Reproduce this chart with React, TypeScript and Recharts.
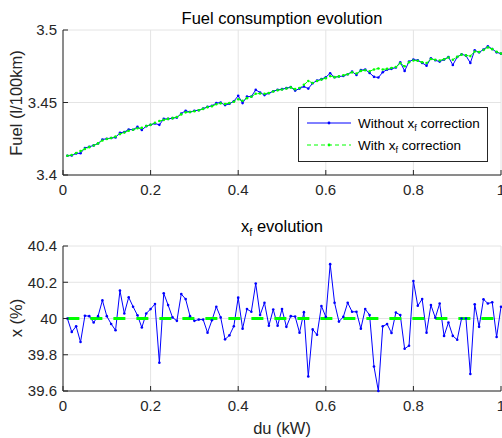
import { LineChart, Line, XAxis, YAxis, CartesianGrid } from "recharts";

// x values (du, kW)
const du = [
  0.01, 0.02, 0.03, 0.04, 0.05, 0.06, 0.07, 0.08, 0.09, 0.1,
  0.11, 0.12, 0.13, 0.14, 0.15, 0.16, 0.17, 0.18, 0.19, 0.2,
  0.21, 0.22, 0.23, 0.24, 0.25, 0.26, 0.27, 0.28, 0.29, 0.3,
  0.31, 0.32, 0.33, 0.34, 0.35, 0.36, 0.37, 0.38, 0.39, 0.4,
  0.41, 0.42, 0.43, 0.44, 0.45, 0.46, 0.47, 0.48, 0.49, 0.5,
  0.51, 0.52, 0.53, 0.54, 0.55, 0.56, 0.57, 0.58, 0.59, 0.6,
  0.61, 0.62, 0.63, 0.64, 0.65, 0.66, 0.67, 0.68, 0.69, 0.7,
  0.71, 0.72, 0.73, 0.74, 0.75, 0.76, 0.77, 0.78, 0.79, 0.8,
  0.81, 0.82, 0.83, 0.84, 0.85, 0.86, 0.87, 0.88, 0.89, 0.9,
  0.91, 0.92, 0.93, 0.94, 0.95, 0.96, 0.97, 0.98, 0.99, 1.0,
];

// fuel consumption without x_f correction (l/100km)
const fuelWithout = [
  3.4133, 3.4134, 3.4149, 3.415, 3.4186, 3.4195, 3.4204, 3.4217, 3.4245, 3.425,
  3.4255, 3.4259, 3.4291, 3.4296, 3.4314, 3.4312, 3.4332, 3.431, 3.4337, 3.4346,
  3.4355, 3.4346, 3.4387, 3.4387, 3.4392, 3.4396, 3.4424, 3.4443, 3.4434, 3.4443,
  3.4447, 3.4458, 3.447, 3.4477, 3.4496, 3.45, 3.4482, 3.4491, 3.4509, 3.4546,
  3.4496, 3.4541, 3.4541, 3.4587, 3.4569, 3.4551, 3.4564, 3.4578, 3.4587, 3.4592,
  3.4599, 3.4606, 3.4582, 3.4596, 3.461, 3.4596, 3.4633, 3.4651, 3.4661, 3.4674,
  3.4702, 3.4674, 3.4679, 3.4683, 3.4695, 3.4713, 3.469, 3.4723, 3.4727, 3.4704,
  3.4677, 3.4672, 3.4709, 3.4727, 3.4732, 3.4741, 3.4778, 3.4718, 3.4782, 3.4796,
  3.4791, 3.4773, 3.4754, 3.4805, 3.4791, 3.4782, 3.4796, 3.4814, 3.4759, 3.4814,
  3.4833, 3.4823, 3.4773, 3.486, 3.4846, 3.4865, 3.4888, 3.4869, 3.4846, 3.4837,
];

// fuel consumption with x_f correction (l/100km)
const fuelWith = [
  3.4133, 3.4138, 3.4152, 3.4165, 3.418, 3.4192, 3.4203, 3.4218, 3.4238, 3.4248,
  3.4255, 3.4265, 3.4282, 3.4293, 3.4305, 3.4312, 3.4322, 3.4325, 3.4338, 3.4346,
  3.436, 3.4372, 3.438, 3.4387, 3.4392, 3.44, 3.4418, 3.4432, 3.4434, 3.444,
  3.4447, 3.4456, 3.4468, 3.4474, 3.4488, 3.4494, 3.449, 3.4496, 3.4505, 3.4522,
  3.4512, 3.453, 3.454, 3.456, 3.4562, 3.456, 3.4566, 3.4576, 3.4584, 3.459,
  3.4597, 3.4604, 3.4592, 3.46, 3.4622, 3.4648, 3.4635, 3.4648, 3.4658, 3.4668,
  3.4682, 3.4675, 3.468, 3.4688, 3.4695, 3.4708, 3.47, 3.4718, 3.4722, 3.4715,
  3.4728, 3.4735, 3.4728, 3.4732, 3.4738, 3.4745, 3.477, 3.475, 3.4778, 3.479,
  3.4788, 3.4778, 3.4772, 3.48, 3.4795, 3.479, 3.4798, 3.481, 3.4795, 3.4815,
  3.483, 3.4825, 3.482, 3.4852, 3.4848, 3.4862, 3.488, 3.4868, 3.485, 3.4838,
];

// x_f estimate (%)
const xfMeasured = [
  40.0, 39.926, 39.957, 39.87, 40.015, 40.013, 39.978, 40.013, 40.1, 40.013,
  39.97, 39.935, 40.154, 40.028, 40.117, 40.065, 40.018, 39.95, 40.028, 40.052,
  40.08, 39.756, 40.139, 40.074, 40.006, 39.987, 40.135, 40.107, 40.013, 39.987,
  39.994, 39.994, 39.922, 39.99, 40.065, 40.006, 39.885, 39.907, 39.957, 40.115,
  39.944, 40.052, 40.037, 40.193, 40.019, 40.087, 39.96, 40.05, 39.96, 40.052,
  39.954, 40.013, 40.011, 39.922, 40.035, 39.68, 39.94, 39.91, 40.069, 40.009,
  40.3, 40.087, 39.983, 40.009, 40.087, 40.037, 40.037, 39.944, 40.052, 40.019,
  39.735, 39.6, 39.957, 39.969, 39.92, 40.033, 40.019, 39.833, 39.85, 40.207,
  40.07, 40.107, 39.922, 40.074, 40.004, 40.083, 39.904, 39.978, 39.904, 39.883,
  40.0, 40.0, 39.694, 40.078, 39.954, 40.106, 40.083, 40.089, 39.898, 40.065,
];

// corrected x_f (%), flat line
const xfCorrDu = [0.01, 1.0];
const xfCorrVal = [40, 40];

const duTicks = [0, 0.2, 0.4, 0.6, 0.8, 1];
const fuelTicks = [3.4, 3.45, 3.5];
const xfTicks = [39.6, 39.8, 40, 40.2, 40.4];

const fuelData = du.map((d, i) => ({ du: d, without: fuelWithout[i], withCorr: fuelWith[i] }));
const xfData = du.map((d, i) => ({ du: d, xf: xfMeasured[i] }));
const xfCorrData = xfCorrDu.map((d, i) => ({ du: d, xf: xfCorrVal[i] }));

const AXIS = "#262626";
const GRID = "#e4e4e4";
const BLUE = "#0000ff";
const GREEN = "#00ff00";
const FONT = "'Liberation Sans', Arial, Helvetica, sans-serif";

function XTick({ x, y, payload }: any) {
  return (
    <g>
      <line x1={x} y1={y} x2={x} y2={y - 5} stroke={AXIS} />
      <text x={x} y={y + 15} dy="0.35em" textAnchor="middle" fontSize={15} fill={AXIS} fontFamily={FONT}>
        {String(payload.value)}
      </text>
    </g>
  );
}

function YTick({ x, y, payload }: any) {
  return (
    <g>
      <line x1={x} y1={y} x2={x + 5} y2={y} stroke={AXIS} />
      <text x={x - 6} y={y} dy="0.35em" textAnchor="end" fontSize={15} fill={AXIS} fontFamily={FONT}>
        {String(payload.value)}
      </text>
    </g>
  );
}

function Legend() {
  return (
    <svg width={190} height={55} style={{ position: "absolute", left: 298, top: 107 }}>
      <rect x={0.5} y={0.5} width={189} height={54} fill="#fff" stroke={AXIS} />
      <line x1={9} y1={16} x2={53} y2={16} stroke={BLUE} />
      <circle cx={31} cy={16} r={1.4} fill={BLUE} />
      <text x={60} y={16} dy="0.35em" fontSize={13.5} fill="#000" fontFamily={FONT}>
        Without x<tspan dy={3} fontSize={9}>f</tspan>
        <tspan dy={-3}> correction</tspan>
      </text>
      <line x1={9} y1={38} x2={53} y2={38} stroke={GREEN} strokeDasharray="4 3" />
      <circle cx={31} cy={38} r={1.4} fill={GREEN} />
      <text x={60} y={38} dy="0.35em" fontSize={13.5} fill="#000" fontFamily={FONT}>
        With x<tspan dy={3} fontSize={9}>f</tspan>
        <tspan dy={-3}> correction</tspan>
      </text>
    </svg>
  );
}

export default function App() {
  return (
    <div style={{ position: "fixed", left: 0, top: 0, width: 502, height: 438, background: "#fff", overflow: "hidden" }}>
      <div style={{ position: "absolute", left: 0, top: 0 }}>
        <LineChart width={502} height={200} data={fuelData} margin={{ top: 30, right: 1, bottom: 0, left: 0 }}>
          <CartesianGrid stroke={GRID} />
          <XAxis
            dataKey="du"
            type="number"
            domain={[0, 1]}
            ticks={duTicks}
            interval={0}
            height={25}
            tickSize={0}
            tickMargin={0}
            tickLine={false}
            axisLine={{ stroke: AXIS }}
            tick={<XTick />}
          />
          <YAxis
            type="number"
            domain={[3.4, 3.5]}
            ticks={fuelTicks}
            interval={0}
            width={63}
            tickSize={0}
            tickMargin={0}
            tickLine={false}
            axisLine={{ stroke: AXIS }}
            tick={<YTick />}
          />
          <Line
            type="linear"
            dataKey="without"
            stroke={BLUE}
            strokeWidth={1}
            dot={{ r: 1.3, fill: BLUE, stroke: "none" }}
            isAnimationActive={false}
          />
          <Line
            type="linear"
            dataKey="withCorr"
            stroke={GREEN}
            strokeWidth={1}
            strokeDasharray="4 3"
            dot={{ r: 1.3, fill: GREEN, stroke: "none", strokeDasharray: "" }}
            isAnimationActive={false}
          />
        </LineChart>
      </div>
      <div style={{ position: "absolute", left: 0, top: 200 }}>
        <LineChart width={502} height={238} data={xfData} margin={{ top: 46, right: 1, bottom: 0, left: 0 }}>
          <CartesianGrid stroke={GRID} />
          <XAxis
            dataKey="du"
            type="number"
            domain={[0, 1]}
            ticks={duTicks}
            interval={0}
            height={47}
            tickSize={0}
            tickMargin={0}
            tickLine={false}
            axisLine={{ stroke: AXIS }}
            tick={<XTick />}
          />
          <YAxis
            type="number"
            domain={[39.6, 40.4]}
            ticks={xfTicks}
            interval={0}
            width={63}
            tickSize={0}
            tickMargin={0}
            tickLine={false}
            axisLine={{ stroke: AXIS }}
            tick={<YTick />}
          />
          <Line
            type="linear"
            dataKey="xf"
            stroke={BLUE}
            strokeWidth={1}
            dot={{ r: 1.3, fill: BLUE, stroke: "none" }}
            isAnimationActive={false}
          />
          <Line
            type="linear"
            data={xfCorrData}
            dataKey="xf"
            stroke={GREEN}
            strokeWidth={3}
            strokeDasharray="12 11"
            dot={false}
            isAnimationActive={false}
          />
        </LineChart>
      </div>
      <Legend />
      <svg width={502} height={438} style={{ position: "absolute", left: 0, top: 0, pointerEvents: "none" }}>
        <text x={282} y={18} dy="0.35em" textAnchor="middle" fontSize={16.5} fill="#000" fontFamily={FONT}>
          Fuel consumption evolution
        </text>
        <text x={282} y={226} dy="0.35em" textAnchor="middle" fontSize={16.5} fill="#000" fontFamily={FONT}>
          x<tspan dy={4} fontSize={11}>f</tspan>
          <tspan dy={-4}> evolution</tspan>
        </text>
        <text
          transform="translate(16,103) rotate(-90)"
          dy="0.35em"
          textAnchor="middle"
          fontSize={16.5}
          fill={AXIS}
          fontFamily={FONT}
        >
          Fuel (l/100km)
        </text>
        <text
          transform="translate(16,318) rotate(-90)"
          dy="0.35em"
          textAnchor="middle"
          fontSize={16.5}
          fill={AXIS}
          fontFamily={FONT}
        >
          x (%)
        </text>
        <text x={282} y={428} dy="0.35em" textAnchor="middle" fontSize={16.5} fill={AXIS} fontFamily={FONT}>
          du (kW)
        </text>
      </svg>
    </div>
  );
}
